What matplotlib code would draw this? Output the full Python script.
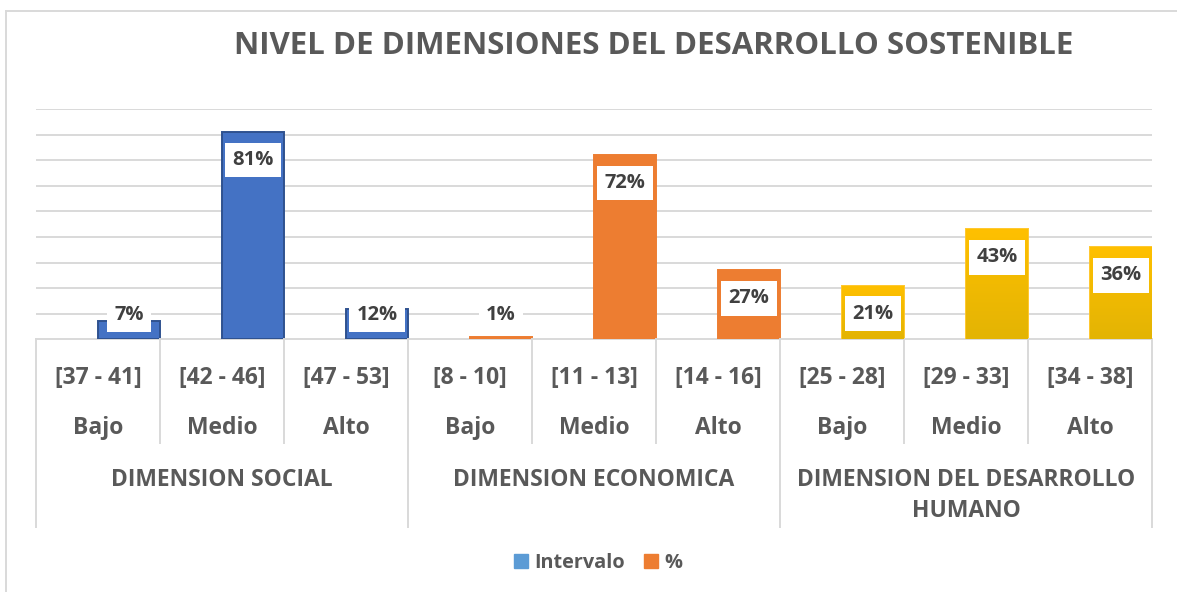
import numpy as np
import matplotlib
matplotlib.use("Agg")
import matplotlib.pyplot as plt
from matplotlib.patches import Patch
from matplotlib.lines import Line2D
from matplotlib.colors import LinearSegmentedColormap

plt.rcParams['font.family'] = ['Open Sans', 'DejaVu Sans']
plt.rcParams['font.weight'] = 'bold'

# datos
intervalos = ["[37 - 41]", "[42 - 46]", "[47 - 53]",
              "[8 - 10]", "[11 - 13]", "[14 - 16]",
              "[25 - 28]", "[29 - 33]", "[34 - 38]"]
niveles = ["Bajo", "Medio", "Alto"] * 3
dimensiones = ["DIMENSION SOCIAL", "DIMENSION ECONOMICA",
               "DIMENSION DEL DESARROLLO\nHUMANO"]
porcentajes = [0.07, 0.81, 0.12, 0.01, 0.72, 0.27, 0.21, 0.43, 0.36]

GRIS = "#595959"
LINEA = "#D9D9D9"
azul, naranja, oro = "#4472C4", "#ED7D31", "#FFC000"

W, H = 1177, 592
fig = plt.figure(figsize=(W / 100, H / 100), dpi=100)
ax = fig.add_axes([36 / W, 1 - 339.3 / H, 1116 / W, 230.3 / H])

x = np.arange(len(porcentajes))
ax.set_yticks(np.arange(0.1, 0.91, 0.1))
ax.yaxis.grid(True, color=LINEA, lw=1.4)
ax.set_axisbelow(True)
ax.tick_params(left=False, bottom=False, labelleft=False, labelbottom=False)
for s in ax.spines.values():
    s.set_visible(False)

colores = [azul] * 3 + [naranja] * 3 + [oro] * 3
bordes = ["#2F528F"] * 3 + [naranja] * 3 + ["#FFC72C"] * 3
bars = ax.bar(x, porcentajes, width=0.5, align="edge", color=colores,
              edgecolor=bordes, lw=1.4, zorder=2)

# degradado en las barras doradas
cmap_oro = LinearSegmentedColormap.from_list("oro", ["#E3B404", "#FFC000"])
grad = np.linspace(0, 1, 100).reshape(-1, 1)
for b in bars[6:]:
    im = ax.imshow(grad, cmap=cmap_oro, origin="lower", aspect="auto",
                   extent=[b.get_x(), b.get_x() + b.get_width(), 0, b.get_height()],
                   zorder=2.1)
    im.set_clip_path(b)
ax.set_xlim(-0.5, len(porcentajes) - 0.5)
ax.set_ylim(0, 0.9)

# etiquetas de valor
for b, v in zip(bars, porcentajes):
    ax.text(b.get_x() + b.get_width() / 2, max(v - 0.11, 0.095),
            f"{v:.0%}", ha="center", va="center", fontsize=14.5,
            color="#404040", fontweight="bold", zorder=4,
            bbox=dict(boxstyle="square,pad=0.36", fc="white", ec="none"))

# eje de categorias multinivel
tr = ax.get_xaxis_transform()
ax.plot([-0.5, len(x) - 0.5], [0, 0], color=LINEA, lw=1.4, transform=tr,
        clip_on=False, zorder=1)
for i in range(len(x) + 1):
    bajo = -0.815 if i % 3 == 0 else -0.45
    ax.plot([i - 0.5, i - 0.5], [0, bajo], color=LINEA, lw=1.4,
            transform=tr, clip_on=False)
for i in x:
    ax.text(i, -0.194, intervalos[i], transform=tr, ha="center",
            va="baseline", fontsize=16.5, color=GRIS)
    ax.text(i, -0.411, niveles[i], transform=tr, ha="center",
            va="baseline", fontsize=16.5, color=GRIS)
for j, d in enumerate(dimensiones):
    for k, linea in enumerate(d.split("\n")):
        ax.text(3 * j + 1, -0.639 - 0.1324 * k, linea, transform=tr,
                ha="center", va="baseline", fontsize=16.5, color=GRIS)

# titulo
fig.text(653.5 / W, 1 - 54 / H, "NIVEL DE DIMENSIONES DEL DESARROLLO SOSTENIBLE",
         ha="center", va="baseline", fontsize=22.5, fontweight="bold", color=GRIS)

# borde del grafico
fig.add_artist(Line2D([6 / W, 6 / W], [0, 1 - 11 / H], color=LINEA, lw=1.4))
fig.add_artist(Line2D([6 / W, 1], [1 - 11 / H, 1 - 11 / H], color=LINEA, lw=1.4))

# leyenda
handles = [Patch(color="#5B9BD5", label="Intervalo"),
           Patch(color=naranja, label="%")]
fig.legend(handles=handles, loc="center", bbox_to_anchor=(598 / W, 1 - 563 / H),
           ncol=2, frameon=False, fontsize=14.3, handlelength=0.7,
           handleheight=0.7, handletextpad=0.3, columnspacing=1.0,
           labelcolor=GRIS)

fig.savefig("out.png", dpi=100)
